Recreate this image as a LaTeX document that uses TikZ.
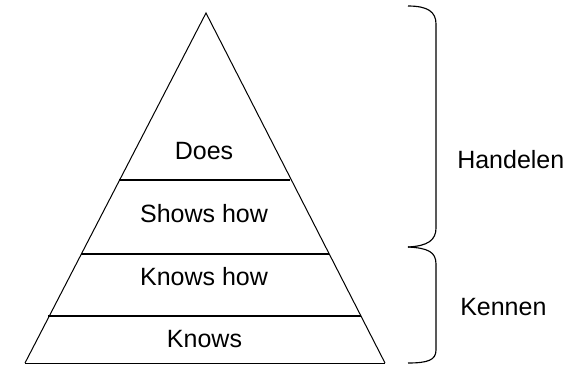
\documentclass[tikz,border=0pt]{standalone}
\usepackage{fontspec}
\setmainfont{Liberation Sans}
\tikzset{
  px/.style={x=0.75pt,y=-0.75pt},
  lbl/.style={inner sep=0pt,anchor=base,font=\fontsize{18.75}{20}\selectfont},
  sidelbl/.style={lbl,anchor=base west},
  edge/.style={line width=0.75pt,black},
  divider/.style={line width=0.9pt,black},
  bracestyle/.style={line width=0.85pt,black}
}
\begin{document}
\begin{tikzpicture}[px]
\useasboundingbox (0,0) rectangle (579,365);
% pyramid corners
\coordinate (apex) at (206,13);
\coordinate (bl) at (25,363);
\coordinate (br) at (385,363);
% divider end points
\coordinate (l1) at (119,180); \coordinate (r1) at (290,180);
\coordinate (l2) at (81,254);  \coordinate (r2) at (329,254);
\coordinate (l3) at (48,316);  \coordinate (r3) at (361,316);
\draw[edge] (bl) -- (apex) -- (br);
\draw[edge] (bl) -- (br);
\draw[divider] (l1) -- (r1);
\draw[divider] (l2) -- (r2);
\draw[divider] (l3) -- (r3);
% labels
\node[lbl] (does) at (204,159) {Does};
\node[lbl] (shows) at (204,222) {Shows how};
\node[lbl] (knowshow) at (204,285) {Knows how};
\node[lbl] (knows) at (204.5,347) {Knows};
% braces
\coordinate (btop) at (408,6);
\coordinate (btip) at (408,247);
\coordinate (bbot) at (408,363);
\draw[bracestyle] (btop) .. controls (428,6) and (436,12) .. (436,24)
  -- (436,228) .. controls (436,240) and (428,246) .. (btip);
\draw[bracestyle] (btip) .. controls (428,248) and (436,252) .. (436,264)
  -- (436,350) .. controls (436,360) and (428,363) .. (bbot);
\node[sidelbl] (handelen) at (457,168.5) {Handelen};
\node[sidelbl] (kennen) at (460,315.5) {Kennen};
\end{tikzpicture}
\end{document}
